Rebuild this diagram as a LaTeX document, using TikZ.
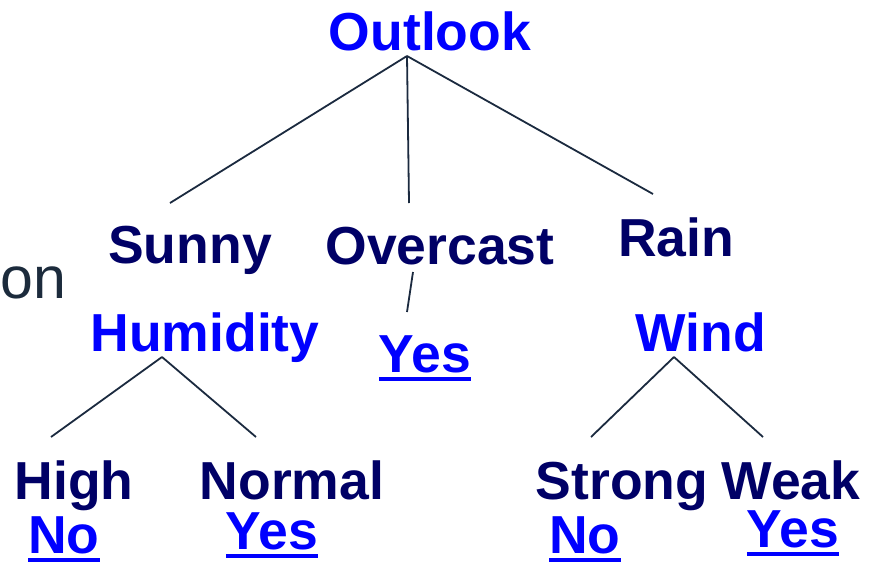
\documentclass[tikz,border=0pt]{standalone}
\usepackage{fontspec}
\setmainfont{Liberation Sans}
\definecolor{tblue}{HTML}{0000FF}
\definecolor{tnavy}{HTML}{000066}
\definecolor{tslate}{HTML}{1C2B3C}
\definecolor{tline}{HTML}{1B2A3F}
\newcommand\myul[1]{\setbox0\hbox{#1}\rlap{\rule[-9pt]{\wd0}{4.5pt}}\box0}
\begin{document}
\begin{tikzpicture}[x=1pt,y=-1pt,
  every node/.style={inner sep=0pt,outer sep=0pt,anchor=base},
  attr/.style={text=tblue,font=\fontsize{53.5}{60}\selectfont\bfseries},
  val/.style={text=tnavy,font=\fontsize{53.5}{60}\selectfont\bfseries},
  leaf/.style={text=tblue,font=\fontsize{53.5}{60}\selectfont\bfseries},
  edge/.style={draw=tline,line width=1.8pt}]
\useasboundingbox (0,0) rectangle (877,563);
% nodes
\node[attr] (outlook) at (430,50) {Outlook};
\node[val] (sunny) at (190,263) {Sunny};
\node[val] (overcast) at (440,264) {Overcast};
\node[val] (rain) at (676,256) {Rain};
\node[text=tslate,font=\fontsize{59}{66}\selectfont,anchor=base west] (on) at (1,298) {on};
\node[attr] (humidity) at (205,351) {Humidity};
\node[leaf] (yesmid) at (425,372) {\myul{Yes}};
\node[attr] (wind) at (701,351) {Wind};
\node[val] (high) at (74,499) {High};
\node[val] (normal) at (292,499) {Normal};
\node[val] (strong) at (622,499) {Strong};
\node[val] (weak) at (791,499) {Weak};
\node[leaf] (no1) at (64,553) {\myul{No}};
\node[leaf] (yes1) at (272,549) {\myul{Yes}};
\node[leaf] (no2) at (585,553) {\myul{No}};
\node[leaf] (yes2) at (793,547) {\myul{Yes}};
% connector ends
\coordinate (oa) at (407,56);
\coordinate (os) at (170,203);
\coordinate (oo) at (409,203);
\coordinate (or) at (653,194);
\coordinate (ya) at (413,272);
\coordinate (yb) at (407,312);
\coordinate (ha) at (162,357);
\coordinate (hl) at (51,437);
\coordinate (hr) at (256,437);
\coordinate (wa) at (674,357);
\coordinate (wl) at (591,437);
\coordinate (wr) at (763,437);
% connectors
\draw[edge] (oa) -- (os);
\draw[edge] (oa) -- (oo);
\draw[edge] (oa) -- (or);
\draw[edge] (ya) -- (yb);
\draw[edge] (ha) -- (hl);
\draw[edge] (ha) -- (hr);
\draw[edge] (wa) -- (wl);
\draw[edge] (wa) -- (wr);
\end{tikzpicture}
\end{document}
